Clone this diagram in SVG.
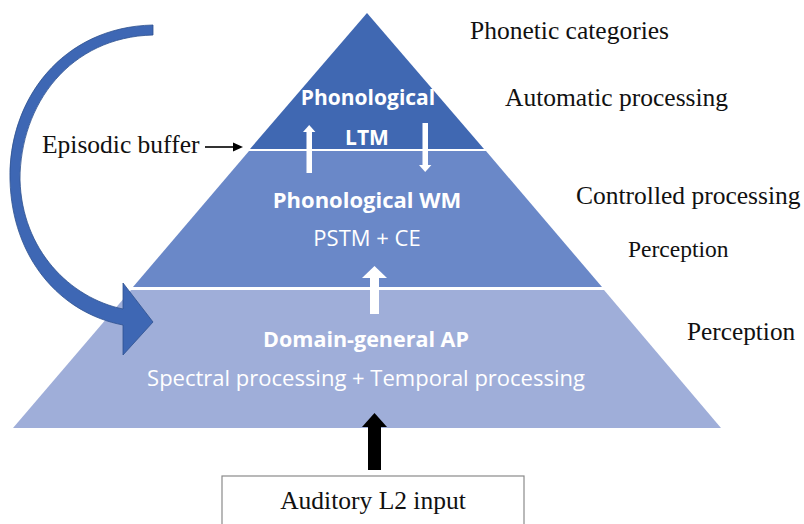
<svg xmlns="http://www.w3.org/2000/svg" width="804" height="524" viewBox="0 0 804 524">
  <style>
    .lbl { font-family: "Liberation Serif", "Times New Roman", serif; fill: #111; }
    .in { font-family: "Open Sans", "Noto Sans", sans-serif; fill: #fff; text-anchor: middle; }
    .b { font-weight: bold; }
  </style>
  <rect width="804" height="524" fill="#fff"/>

  <!-- pyramid layers -->
  <g id="layer-ltm">
    <polygon points="367,13 484,149 250,149" fill="#4068B2"/>
    <text class="in b" x="368" y="105" font-size="21">Phonological</text>
    <text class="in b" x="367" y="145" font-size="21">LTM</text>
  </g>
  <g id="layer-wm">
    <polygon points="249,151 486,151 602,287 133,287" fill="#6A88C8"/>
    <text class="in b" x="367" y="208" font-size="22">Phonological WM</text>
    <text class="in" x="367" y="246" font-size="22">PSTM + CE</text>
  </g>
  <g id="layer-ap">
    <polygon points="131,290 604,290 721,428 13,428" fill="#9FAED9"/>
    <text class="in b" x="366" y="347" font-size="21.5">Domain-general AP</text>
    <text class="in" x="366" y="386" font-size="22">Spectral processing + Temporal processing</text>
  </g>

  <!-- input box -->
  <g id="input">
    <rect x="222" y="476" width="302" height="60" fill="#fff" stroke="#8a8a8a" stroke-width="1.2"/>
    <text class="lbl" x="373" y="509" font-size="25.5" text-anchor="middle">Auditory L2 input</text>
  </g>

  <!-- side labels -->
  <g id="side-labels">
    <text class="lbl" x="470" y="39" font-size="25.5">Phonetic categories</text>
    <text class="lbl" x="505" y="106" font-size="25.5">Automatic processing</text>
    <text class="lbl" x="576" y="204" font-size="25.5">Controlled processing</text>
    <text class="lbl" x="628" y="257" font-size="23.5">Perception</text>
    <text class="lbl" x="687" y="340" font-size="25.3">Perception</text>
    <text class="lbl" x="42" y="153" font-size="25.5">Episodic buffer</text>
  </g>

  <!-- connectors -->
  <g id="connectors">
    <!-- episodic buffer pointer -->
    <line x1="205" y1="147" x2="234" y2="147" stroke="#000" stroke-width="1.6"/>
    <polygon points="243,147 233,142.5 233,151.5" fill="#000"/>

    <!-- LTM <-> WM exchange -->
    <rect x="306.5" y="131" width="5.5" height="42" fill="#fff"/>
    <polygon points="309.2,125 303,132 315.4,132" fill="#fff"/>
    <rect x="422.5" y="123" width="5.5" height="43" fill="#fff"/>
    <polygon points="425.2,172 419,165 431.4,165" fill="#fff"/>

    <!-- AP to WM -->
    <rect x="370" y="277" width="9" height="37" fill="#fff"/>
    <polygon points="374.5,266 362,278 387,278" fill="#fff"/>

    <!-- input to AP -->
    <rect x="368" y="426" width="13" height="44" fill="#000"/>
    <polygon points="374.5,413 362,427 387,427" fill="#000"/>

    <!-- curved arrow into AP -->
    <path d="M153,25 C 62,27 8,100 10,180 C 12,258 60,313 123,325 L123,355 L153,322 L123,283 L123,309 C 70,298 22,250 20,180 C 20,104 70,37 153,35 Z" fill="#3E67B4" stroke="#2F528F" stroke-width="0.8"/>
  </g>
</svg>
